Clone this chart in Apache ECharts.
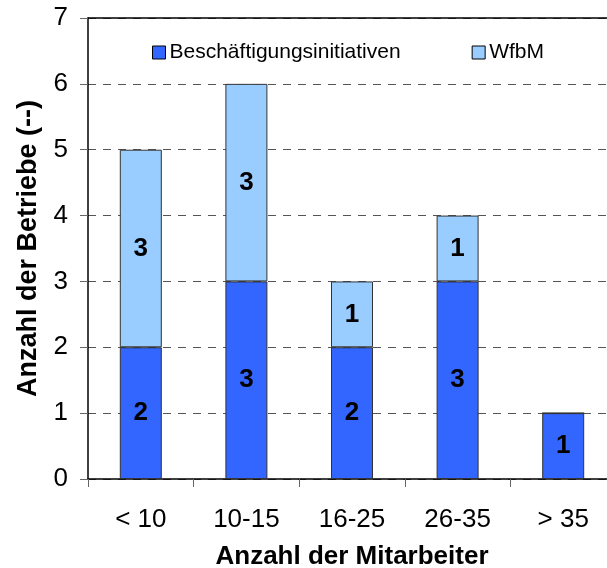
<!DOCTYPE html>
<html>
<head>
<meta charset="utf-8">
<script src="https://cdn.jsdelivr.net/npm/echarts@6/dist/echarts.min.js"></script>
<style>
  html, body { margin: 0; padding: 0; background: #fff; }
  #chart { width: 607px; height: 568px; }
</style>
</head>
<body>
<div id="chart"></div>
<script>
// Betriebe nach Mitarbeiterzahl, gestapelt nach Trägerart
const categories = ['< 10', '10-15', '16-25', '26-35', '> 35'];
const beschaeftigung = [2, 3, 2, 3, 1];
const wfbm = [3, 3, 1, 1, 0];
const yTicks = [0, 1, 2, 3, 4, 5, 6, 7];

const FONT = '"Liberation Sans", Arial, sans-serif';

const chart = echarts.init(document.getElementById('chart'), null, { renderer: 'canvas' });

const segLabel = {
  show: true,
  position: 'inside',
  fontFamily: FONT,
  fontWeight: 'bold',
  fontSize: 26,
  color: '#000',
  formatter: p => (p.value ? String(p.value) : '')
};

chart.setOption({
  animation: false,
  backgroundColor: '#fff',
  grid: { left: 88, top: 18, width: 528, height: 461, containLabel: false, outerBoundsMode: 'none' },
  legend: {
    left: 152,
    top: 42,
    padding: 0,
    itemWidth: 13,
    itemHeight: 13,
    itemGap: 71,
    icon: 'rect',
    itemStyle: { borderColor: '#000', borderWidth: 1 },
    textStyle: { fontFamily: FONT, fontSize: 21, color: '#000', padding: [0, 0, 0, -1] },
    data: ['Beschäftigungsinitiativen', 'WfbM']
  },
  xAxis: [
    {
      type: 'category',
      data: categories,
      boundaryGap: true,
      axisLine: { show: true, lineStyle: { color: '#000', width: 1.5 } },
      axisTick: { show: true, length: 8, alignWithLabel: false, lineStyle: { color: '#666' } },
      axisLabel: { fontFamily: FONT, fontSize: 26, color: '#000', margin: 28 },
      name: 'Anzahl der Mitarbeiter',
      nameLocation: 'middle',
      nameGap: 65,
      nameTextStyle: { fontFamily: FONT, fontSize: 26, fontWeight: 'bold', color: '#000' }
    },
    {
      type: 'category',
      data: categories,
      position: 'top',
      axisLine: { show: true, lineStyle: { color: '#000', width: 1.5 } },
      axisTick: { show: false },
      axisLabel: { show: false }
    }
  ],
  yAxis: {
    type: 'value',
    min: yTicks[0],
    max: yTicks[yTicks.length - 1],
    interval: 1,
    axisLine: { show: true, lineStyle: { color: '#000', width: 1.5 } },
    axisTick: { show: true, length: 8, lineStyle: { color: '#666' } },
    axisLabel: { fontFamily: FONT, fontSize: 26, color: '#000', margin: 20 },
    splitLine: { show: true, lineStyle: { color: '#555', type: [8, 7], width: 1 } },
    name: 'Anzahl der Betriebe (--)',
    nameLocation: 'middle',
    nameGap: 46,
    nameTextStyle: { fontFamily: FONT, fontSize: 27, fontWeight: 'bold', color: '#000' }
  },
  series: [
    {
      name: 'Beschäftigungsinitiativen',
      type: 'bar',
      stack: 'betriebe',
      data: beschaeftigung,
      barWidth: 42,
      itemStyle: { color: '#3366FF', borderColor: '#333', borderWidth: 1 },
      label: segLabel
    },
    {
      name: 'WfbM',
      type: 'bar',
      stack: 'betriebe',
      data: wfbm,
      barWidth: 42,
      itemStyle: { color: '#99CCFF', borderColor: '#333', borderWidth: 1 },
      label: segLabel
    }
  ]
});
</script>
</body>
</html>
